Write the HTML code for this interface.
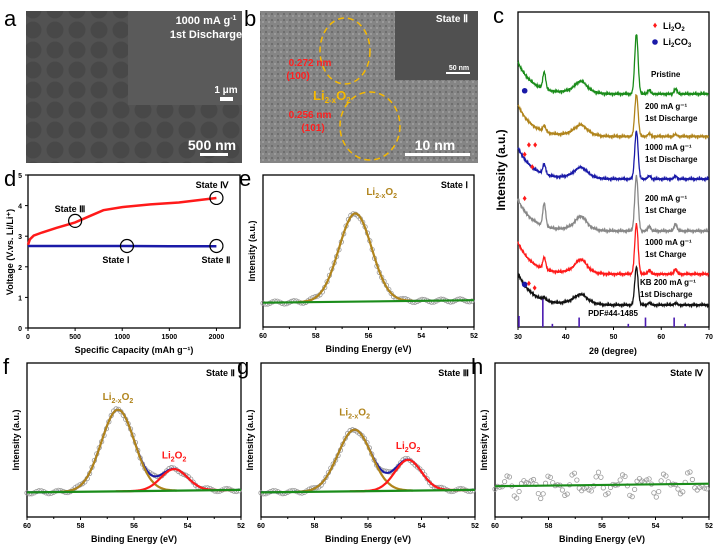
<!DOCTYPE html>
<html><head><meta charset="utf-8"><style>
body{margin:0;background:#fff}
svg{display:block;font-family:"Liberation Sans",Arial,sans-serif}
</style></head><body>
<svg id="fig" width="715" height="544" viewBox="0 0 715 544" xmlns="http://www.w3.org/2000/svg">
<defs>
<pattern id="cells" width="22" height="20" patternUnits="userSpaceOnUse">
<rect width="22" height="20" fill="#525252"/><circle cx="11" cy="10" r="8.5" fill="#484848"/></pattern>
<pattern id="grain" width="6" height="6" patternUnits="userSpaceOnUse">
<rect width="6" height="6" fill="#858585"/><rect x="1" y="1" width="2" height="2" fill="#6e6e6e"/><rect x="4" y="3" width="2" height="2" fill="#9a9a9a"/></pattern>
</defs>
<g>
<rect x="26" y="11" width="216" height="152" fill="url(#cells)"/>
<rect x="128" y="11" width="114" height="94" fill="#5a5a5a"/>
<text x="4" y="26" font-size="22">a</text>
<text x="206" y="24" font-size="11" font-weight="bold" fill="#fff" text-anchor="middle">1000 mA g<tspan dy="-4" font-size="7">-1</tspan></text>
<text x="206" y="38" font-size="11" font-weight="bold" fill="#fff" text-anchor="middle">1st Discharge</text>
<text x="226" y="93" font-size="10" font-weight="bold" fill="#fff" text-anchor="middle">1 μm</text>
<rect x="220" y="97" width="13" height="4" fill="#fff"/>
<text x="212" y="150" font-size="14" font-weight="bold" fill="#fff" text-anchor="middle">500 nm</text>
<rect x="200" y="153" width="28" height="3" fill="#fff"/>
</g>
<g>
<rect x="260" y="11" width="218" height="152" fill="url(#grain)"/>
<rect x="395" y="11" width="83" height="69" fill="#505050"/>
<text x="244" y="26" font-size="22">b</text>
<text x="452" y="22" font-size="10" font-weight="bold" fill="#fff" text-anchor="middle">State Ⅱ</text>
<text x="459" y="70" font-size="7" font-weight="bold" fill="#fff" text-anchor="middle">50 nm</text>
<rect x="446" y="72" width="24" height="2" fill="#fff"/>
<ellipse cx="345" cy="51" rx="25" ry="33" fill="none" stroke="#f5b800" stroke-width="1.5" stroke-dasharray="6,4"/>
<ellipse cx="370" cy="126" rx="30" ry="34" fill="none" stroke="#f5b800" stroke-width="1.5" stroke-dasharray="6,4"/>
<text x="310" y="66" font-size="10" font-weight="bold" fill="#ff2020" text-anchor="middle">0.272 nm</text>
<text x="298" y="79" font-size="10" font-weight="bold" fill="#ff2020" text-anchor="middle">(100)</text>
<text x="310" y="118" font-size="10" font-weight="bold" fill="#ff2020" text-anchor="middle">0.256 nm</text>
<text x="313" y="131" font-size="10" font-weight="bold" fill="#ff2020" text-anchor="middle">(101)</text>
<text x="313" y="100" font-size="13" font-weight="bold" fill="#f5b800">Li<tspan dy="3" font-size="8">2-x</tspan><tspan dy="-3">O</tspan><tspan dy="3" font-size="8">2</tspan></text>
<text x="435" y="150" font-size="14" font-weight="bold" fill="#fff" text-anchor="middle">10 nm</text>
<rect x="405" y="153" width="65" height="3" fill="#fff"/>
</g>
<g id="charts"></g>
</svg>
<script>
// ---------- data ----------
const capDischarge = [0, 250, 500, 1000, 1500, 2000];
const vDischarge = [2.68, 2.68, 2.68, 2.68, 2.67, 2.67];
const capCharge = [0, 20, 60, 150, 300, 500, 650, 800, 1000, 1300, 1600, 2000];
const vCharge = [2.72, 2.9, 3.02, 3.12, 3.27, 3.45, 3.65, 3.85, 3.95, 4.04, 4.1, 4.25];
const dXTicks = [0, 500, 1000, 1500, 2000];
const dYTicks = [0, 1, 2, 3, 4, 5];
const beTicks = [60, 58, 56, 54, 52];
const xrdTicks = [30, 40, 50, 60, 70];
// XPS peaks: [center eV, height]
const xpsE = [[56.5, 0.58]];
const xpsF = [[56.6, 0.53], [54.5, 0.14]];
const xpsG = [[56.5, 0.40], [54.5, 0.20]];
const xpsWidth = [0.62, 0.5];
const xpsBase = [0.16, 0.16, 0.16];
// XRD patterns
const xrdNames = ["Pristine", "200 mA g-1 1st Discharge", "1000 mA g-1 1st Discharge", "200 mA g-1 1st Charge", "1000 mA g-1 1st Charge", "KB 200 mA g-1 1st Discharge"];
const xrdColors = ["#1a8c1a", "#b0841c", "#1a1aa8", "#888888", "#ff1a1a", "#111111"];
const xrdBase = [74, 60.5, 47, 30.5, 16.8, 7];
const xrdPeakPos = [35.5, 43.2, 54.8, 57.5, 63];
const xrdPeakH = [[17, 6, 60, 4, 5], [6, 5, 42, 3, 2], [10, 5, 48, 3, 3], [23, 8, 55, 5, 7], [12, 8, 50, 4, 5], [3, 4, 38, 2, 2]];
const pdfPos = [30.2, 35.2, 37.2, 42.8, 53.1, 56.7, 62.7, 65];
const pdfH = [3.5, 9.5, 1, 3, 1, 3, 3, 1];
const li2o2Marks = [[1, 32.3, 58], [1, 33.6, 58], [2, 31.4, 55], [2, 33, 51], [3, 31.4, 41], [5, 32.3, 14], [5, 33.5, 12.5]];
const li2co3Marks = [[1, 31.4, 75], [5, 31.4, 13.5]];

// ---------- helpers ----------
const NS = "http://www.w3.org/2000/svg";
const root = document.getElementById("charts");
function el(tag, attrs, parent, txt) {
  const e = document.createElementNS(NS, tag);
  for (const k in attrs) e.setAttribute(k, attrs[k]);
  if (txt !== undefined) e.textContent = txt;
  (parent || root).appendChild(e);
  return e;
}
function lin(d0, d1, r0, r1) { return v => r0 + (v - d0) / (d1 - d0) * (r1 - r0); }
function axesBox(g, x0, y0, x1, y1) {
  el("rect", {x: x0, y: y0, width: x1 - x0, height: y1 - y0, fill: "none", stroke: "#000", "stroke-width": 1.3}, g);
}
function bold(g, x, y, size, txt, anchor, fill, rot) {
  const a = {x: x, y: y, "font-size": size, "font-weight": "bold", "text-anchor": anchor || "middle", fill: fill || "#000"};
  if (rot) a.transform = "rotate(-90 " + x + " " + y + ")";
  return el("text", a, g, txt);
}
function poly(g, pts, color, w) {
  el("polyline", {points: pts.map(p => p[0].toFixed(1) + "," + p[1].toFixed(1)).join(" "), fill: "none", stroke: color, "stroke-width": w || 2}, g);
}
function gauss(x, c, h, w) { return h * Math.exp(-((x - c) ** 2) / (2 * w * w)); }

// ---------- panel d ----------
(function () {
  const g = el("g", {});
  
  
  const X = lin(0, 2250, 28, 240), Y = lin(0, 5, 328, 175);
  el("text", {x: 4, y: 186, "font-size": 22}, g, "d");
  axesBox(g, 28, 175, 240, 328);
  dXTicks.forEach(t => { el("line", {x1: X(t), x2: X(t), y1: 328, y2: 331, stroke: "#000"}, g); bold(g, X(t), 339, 7, t); });
  dYTicks.forEach(t => { el("line", {x1: 25, x2: 28, y1: Y(t), y2: Y(t), stroke: "#000"}, g); bold(g, 22, Y(t) + 3, 7, t, "end"); });
  bold(g, 134, 353, 9, "Specific Capacity (mAh g⁻¹)");
  bold(g, 13, 252, 9, "Voltage (V.vs. Li/Li⁺)", "middle", "#000", true);
  const blue = el("g", {}, g);
  
  
  poly(blue, capDischarge.map((c, i) => [X(c), Y(vDischarge[i])]), "#1a1aa8", 2.5);
  const red = el("g", {}, g);
  
  
  poly(red, capCharge.map((c, i) => [X(c), Y(vCharge[i])]), "#ff1a1a", 2.5);
  [[500, 3.5], [1050, 2.68], [2000, 2.68], [2000, 4.25]].forEach(p => el("circle", {cx: X(p[0]), cy: Y(p[1]), r: 6.5, fill: "none", stroke: "#000", "stroke-width": 1.2}, g));
  bold(g, 70, 212, 9, "State Ⅲ");
  bold(g, 116, 263, 9, "State Ⅰ");
  bold(g, 216, 263, 9, "State Ⅱ");
  bold(g, 212, 188, 9, "State Ⅳ");
})();

// ---------- XPS panels ----------
function xps(letter, x0, y0, x1, y1, peaks, base, state, labels, dataName, circlesOnly) {
  const g = el("g", {});
  
  
  const X = lin(60, 52, x0, x1), Y = lin(0, 1, y1, y0);
  el("text", {x: x0 - 24, y: y0 + 11, "font-size": 22}, g, letter);
  axesBox(g, x0, y0, x1, y1);
  beTicks.forEach(t => { el("line", {x1: X(t), x2: X(t), y1: y1, y2: y1 + 3, stroke: "#000"}, g); bold(g, X(t), y1 + 11, 7, t); });
  [59, 57, 55, 53].forEach(t => el("line", {x1: X(t), x2: X(t), y1: y1, y2: y1 + 2, stroke: "#000"}, g));
  bold(g, (x0 + x1) / 2, y1 + 25, 9, "Binding Energy (eV)");
  bold(g, x0 - 8, (y0 + y1) / 2, 9, "Intensity (a.u.)", "middle", "#000", true);
  bold(g, x1 - 6, y0 + 13, 9, state, "end");
  const pts = [];
  for (let e = 60; e >= 52; e -= 0.04) pts.push(e);
  const baseY = e => base + (60 - e) * 0.002;
  const tot = e => baseY(e) + peaks.reduce((s, p, i) => s + gauss(e, p[0], p[1], xpsWidth[i]), 0);
  for (let e = 60; e >= 52; e -= 0.09) {
    const wig = circlesOnly ? 0.05 * Math.sin(e * 7.3) + 0.035 * Math.cos(e * 13.1) : 0.01 * Math.sin(e * 9);
    el("circle", {cx: X(e), cy: Y(tot(e) + wig), r: 2.2, fill: "none", stroke: "#999", "stroke-width": 0.8}, g);
  }
  if (peaks.length > 1) poly(g, pts.map(e => [X(e), Y(tot(e))]), "#1a1aa8", 2);
  const cols = ["#b0841c", "#ff1a1a"];
  peaks.forEach((p, i) => poly(g, pts.filter(e => Math.abs(e - p[0]) < 2.2).map(e => [X(e), Y(baseY(e) + gauss(e, p[0], p[1], xpsWidth[i]))]), cols[i], 2.2));
  poly(g, [[X(60), Y(baseY(60))], [X(52), Y(baseY(52))]], "#1a8c1a", 2.2);
  labels.forEach(l => {
    const t = el("text", {x: X(l[0]), y: Y(l[1]), "font-size": 10, "font-weight": "bold", fill: l[2], "text-anchor": "middle"}, g);
    t.innerHTML = l[3];
  });
}
const lixo = 'Li<tspan dy="3" font-size="7">2-x</tspan><tspan dy="-3">O</tspan><tspan dy="3" font-size="7">2</tspan>';
const lio = 'Li<tspan dy="3" font-size="7">2</tspan><tspan dy="-3">O</tspan><tspan dy="3" font-size="7">2</tspan>';
xps("e", 263, 175, 474, 327, xpsE, xpsBase[0], "State Ⅰ", [[55.5, 0.87, "#b0841c", lixo]], "panel-e-xps-state1", false);
xps("f", 27, 363, 241, 517, xpsF, xpsBase[1], "State Ⅱ", [[56.6, 0.76, "#b0841c", lixo], [54.5, 0.38, "#ff1a1a", lio]], "panel-f-xps-state2", false);
xps("g", 261, 363, 475, 517, xpsG, xpsBase[2], "State Ⅲ", [[56.5, 0.66, "#b0841c", lixo], [54.5, 0.44, "#ff1a1a", lio]], "panel-g-xps-state3", false);
xps("h", 495, 363, 709, 517, [], 0.2, "State Ⅳ", [], "panel-h-xps-state4", true);

// ---------- panel c (XRD) ----------
(function () {
  const g = el("g", {});
  
  
  const X = lin(30, 70, 518, 709), Y = lin(0, 100, 327, 12);
  el("text", {x: 493, y: 23, "font-size": 22}, g, "c");
  axesBox(g, 518, 12, 709, 327);
  xrdTicks.forEach(t => { el("line", {x1: X(t), x2: X(t), y1: 327, y2: 330, stroke: "#000"}, g); bold(g, X(t), 339, 7, t); });
  bold(g, 613, 354, 9, "2θ (degree)");
  bold(g, 505, 170, 12, "Intensity (a.u.)", "middle", "#000", true);
  pdfPos.forEach((p, i) => {
    const s = el("line", {x1: X(p), x2: X(p), y1: 327, y2: Y(pdfH[i]), stroke: "#4a1ab0", "stroke-width": 1.6}, g);
    
    
  });
  bold(g, 613, 316, 8, "PDF#44-1485");
  xrdBase.forEach((b, k) => {
    const pts = [];
    for (let t = 30; t <= 70; t += 0.1) {
      let v = b + 10 * Math.exp(-(t - 30) / 3) + 2 * Math.exp(-((t - 43) ** 2) / 8);
      xrdPeakPos.forEach((p, i) => {
        const w = i === 1 ? 1.0 : (i === 2 ? 0.35 : 0.3);
        v += gauss(t, p, xrdPeakH[k][i] / 3.15, w);
      });
      v += 0.35 * Math.sin(t * 37 + k);
      pts.push([X(t), Y(v)]);
    }
    const s = el("g", {}, g);
    
    
    poly(s, pts, xrdColors[k], 1.3);
  });
  li2o2Marks.forEach(m => el("text", {x: X(m[1]), y: Y(m[2]) + 3, "font-size": 9, fill: "#ff1a1a", "text-anchor": "middle"}, g, "♦"));
  li2co3Marks.forEach(m => el("circle", {cx: X(m[1]), cy: Y(m[2]), r: 2.8, fill: "#1a1aa8"}, g));
  el("text", {x: 655, y: 28, "font-size": 9, fill: "#ff1a1a", "text-anchor": "middle"}, g, "♦");
  el("text", {x: 663, y: 29, "font-size": 9, "font-weight": "bold"}, g).innerHTML = 'Li<tspan dy="2" font-size="6">2</tspan><tspan dy="-2">O</tspan><tspan dy="2" font-size="6">2</tspan>';
  el("circle", {cx: 655, cy: 42, r: 2.8, fill: "#1a1aa8"}, g);
  el("text", {x: 663, y: 45, "font-size": 9, "font-weight": "bold"}, g).innerHTML = 'Li<tspan dy="2" font-size="6">2</tspan><tspan dy="-2">CO</tspan><tspan dy="2" font-size="6">3</tspan>';
  const lab = [[651, 77, "Pristine"], [645, 109, "200 mA g⁻¹"], [645, 121, "1st Discharge"], [645, 150, "1000 mA g⁻¹"], [645, 162, "1st Discharge"], [645, 201, "200 mA g⁻¹"], [645, 213, "1st Charge"], [645, 245, "1000 mA g⁻¹"], [645, 257, "1st Charge"], [640, 285, "KB 200 mA g⁻¹"], [640, 297, "1st Discharge"]];
  lab.forEach(l => bold(g, l[0], l[1], 8, l[2], "start"));
})();
</script>
</body></html>
